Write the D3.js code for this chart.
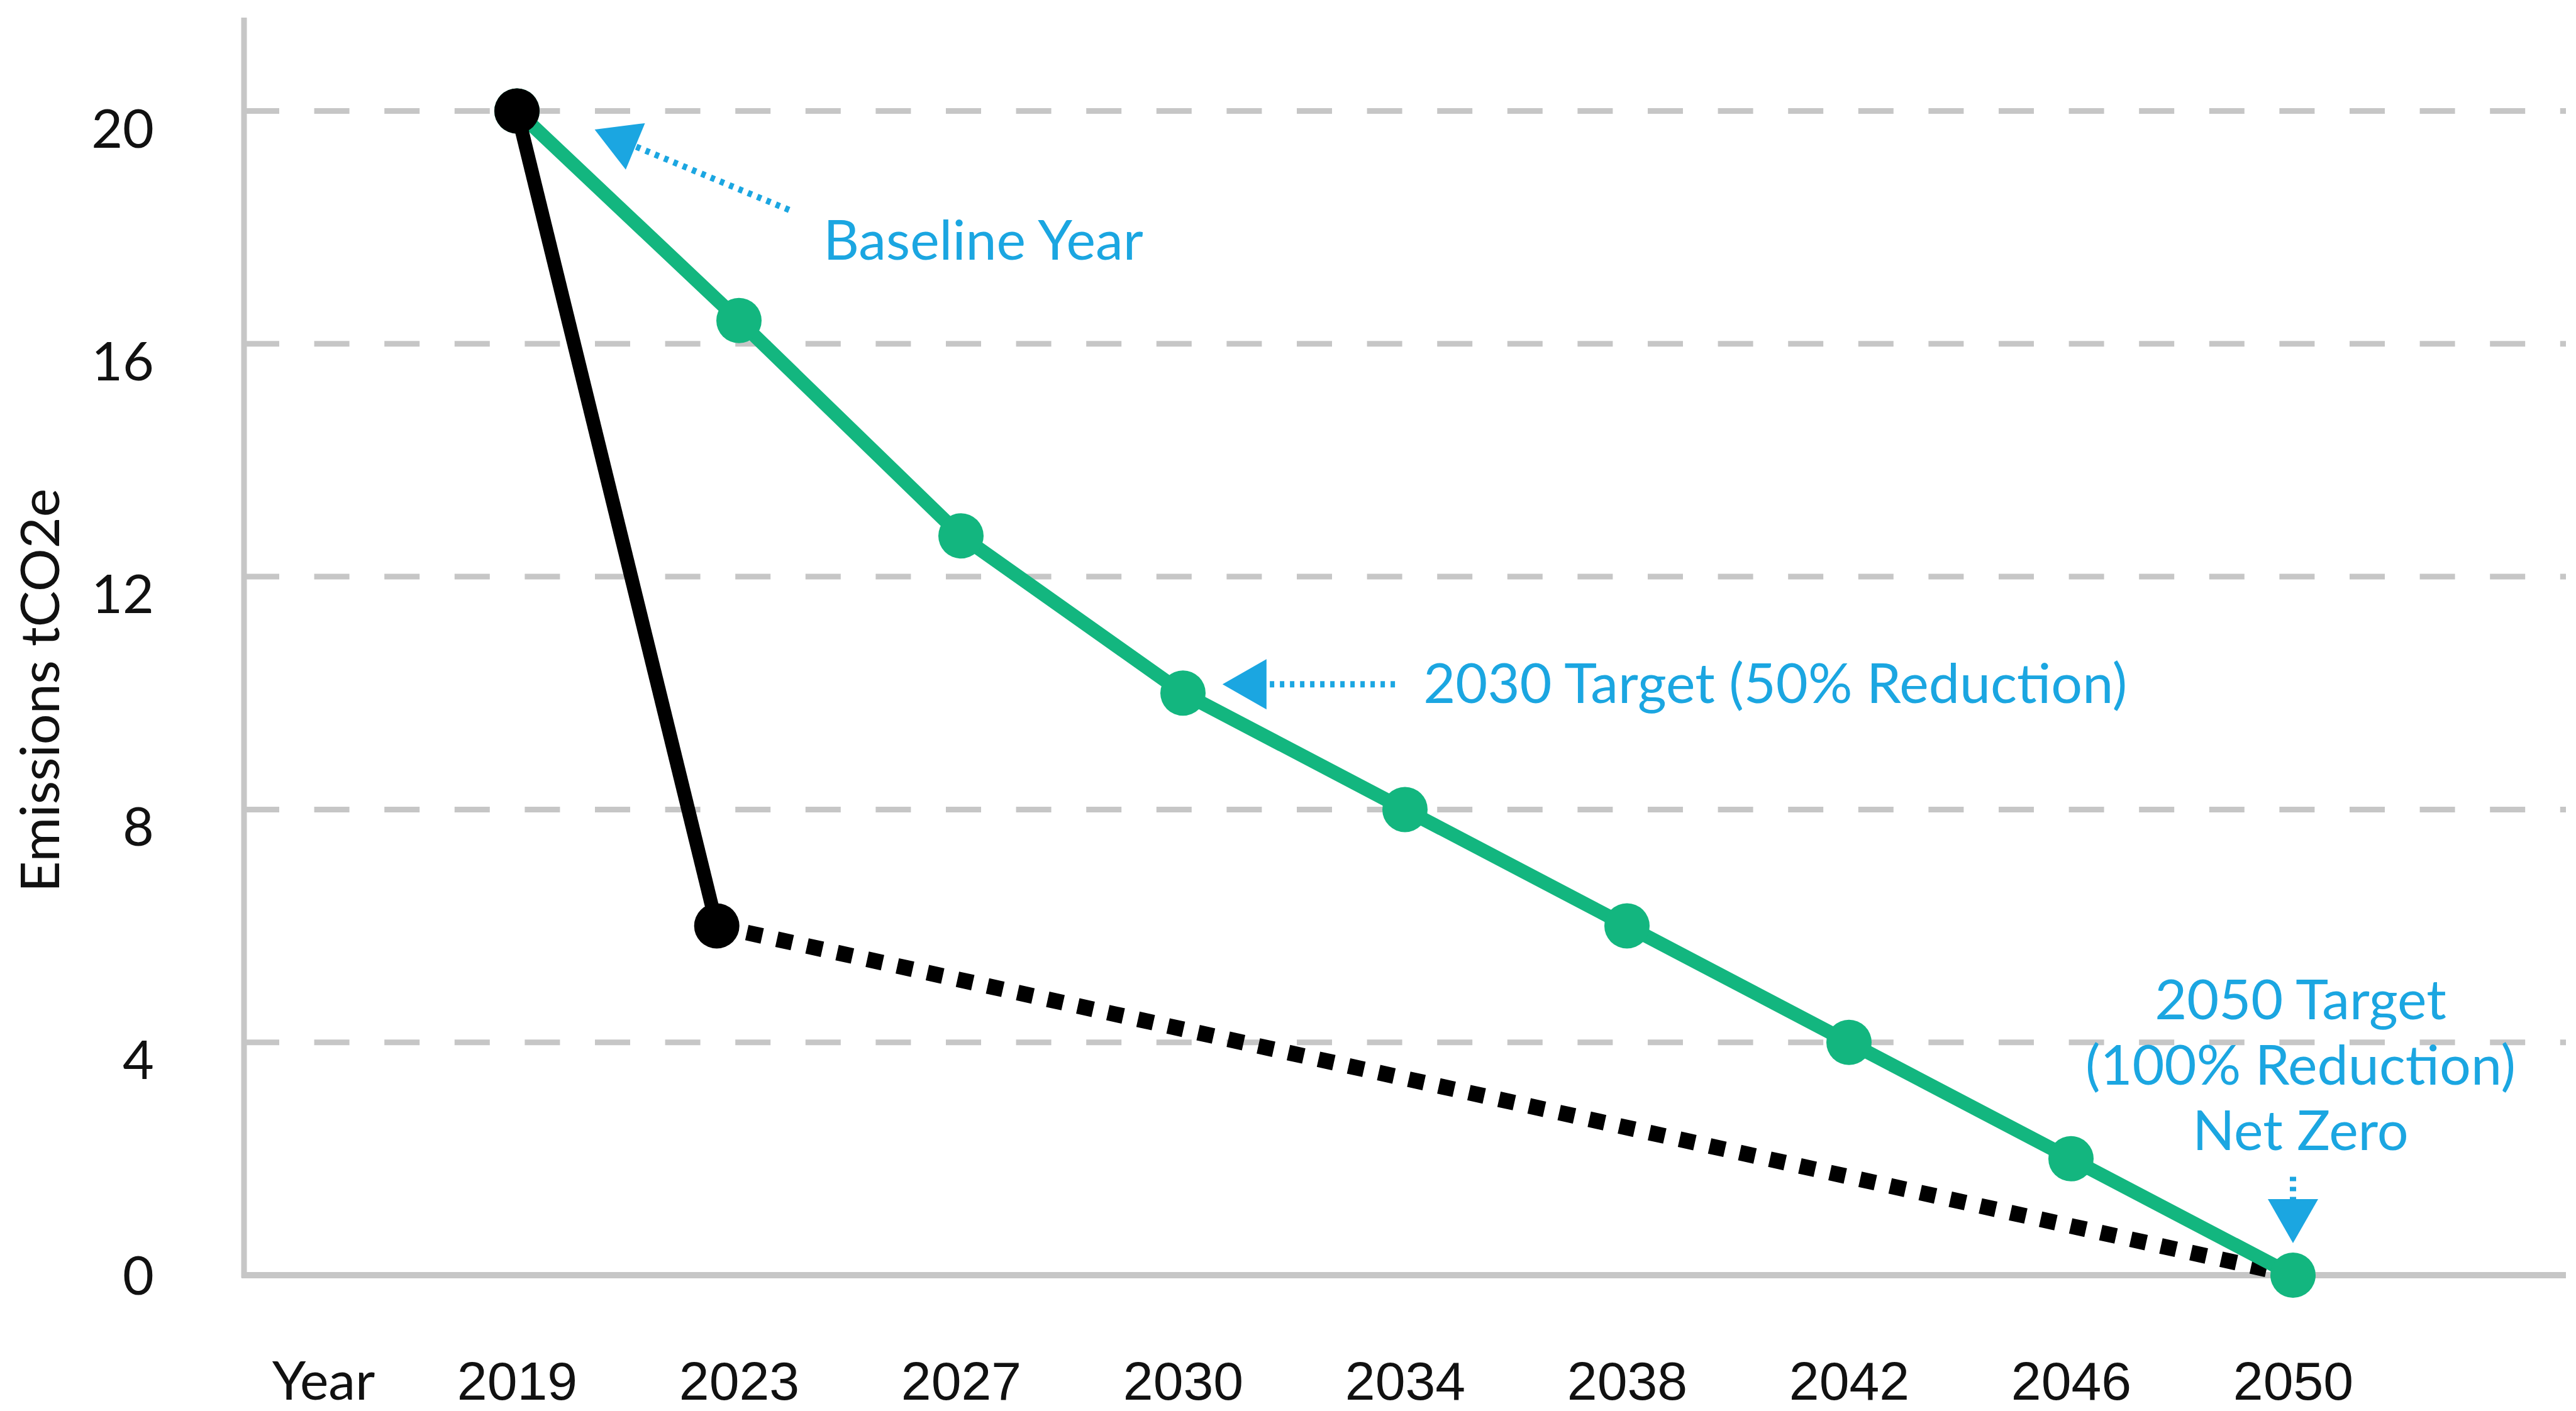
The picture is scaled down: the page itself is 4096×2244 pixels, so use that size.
<!DOCTYPE html>
<html lang="en">
  <head>
    <meta charset="UTF-8" />
    <title>Emissions reduction pathway</title>
    <script src="https://cdn.jsdelivr.net/npm/d3@7"></script>
    <style>
      body {
        margin: 0;
        background-color: #ffffff;
        font-family: Lato, 'Open Sans', sans-serif;
      }

      svg {
        display: block;
      }

      .tick-label {
        font-size: 86px;
        fill: #111;
      }

      .note {
        font-size: 88px;
        fill: #1ba6e1;
      }
    </style>
  </head>
  <body>
    <svg width="4096" height="2244"></svg>

    <script>
      // chart data
      const years = ['2019', '2023', '2027', '2030', '2034', '2038', '2042', '2046', '2050'];
      const targetValues = [20, 16.4, 12.7, 10, 8, 6, 4, 2, 0];
      // actual emissions: position on the year axis (index) and value
      const actualIndex = [0, 0.9];
      const actualValues = [20, 6];
      const projectedIndex = [0.9, 8];
      const projectedValues = [6, 0];
      const yTicks = [0, 4, 8, 12, 16, 20];

      // annotations, anchored in data units (index, value)
      const noteLines = [['Baseline Year'], ['2030 Target (50% Reduction)'], ['2050 Target', '(100% Reduction)', 'Net Zero']];
      const noteTextAt = [[1.38, 17.44], [4.083, 9.83], [8.034, 4.4]];
      const noteAnchor = ['start', 'start', 'middle'];
      const arrowTip = [[0.35, 19.68], [3.178, 10.15], [8, 0.55]];
      const arrowTail = [[1.226, 18.3], [3.955, 10.15], [8, 1.69]];

      const svg = d3.select('svg');
      const green = '#13b67f';
      const grey = '#c6c6c6';
      const cyan = '#1ba6e1';

      const x = d3.scaleLinear().domain([0, years.length - 1]).range([822, 3646]);
      const y = d3.scaleLinear().domain([0, 20]).range([2028, 176.5]);
      const axisX = 388;
      const rightEdge = 4080;

      // gridlines
      svg
        .append('g')
        .selectAll('line')
        .data(yTicks.filter((v) => v > 0))
        .join('line')
        .attr('x1', axisX)
        .attr('x2', rightEdge)
        .attr('y1', (d) => y(d))
        .attr('y2', (d) => y(d))
        .attr('stroke', grey)
        .attr('stroke-width', 9)
        .attr('stroke-dasharray', '56 55.6');

      // axis lines
      svg
        .append('line')
        .attr('x1', axisX)
        .attr('x2', axisX)
        .attr('y1', 28)
        .attr('y2', y(0) + 4)
        .attr('stroke', grey)
        .attr('stroke-width', 9);
      svg
        .append('line')
        .attr('x1', axisX - 4)
        .attr('x2', rightEdge)
        .attr('y1', y(0))
        .attr('y2', y(0))
        .attr('stroke', grey)
        .attr('stroke-width', 10);

      // y tick labels (sit just under their gridline, 0 centred on the axis)
      svg
        .append('g')
        .selectAll('text')
        .data(yTicks)
        .join('text')
        .attr('class', 'tick-label')
        .attr('text-anchor', 'end')
        .attr('x', 245)
        .attr('y', (d) => y(d) + (d === 0 ? 31 : 58))
        .text((d) => d);

      // x axis labels
      const xAxis = d3
        .axisBottom(x)
        .tickValues(d3.range(years.length))
        .tickFormat((i) => years[i])
        .tickSize(0);
      const gx = svg.append('g').attr('transform', `translate(0,${y(0)})`).call(xAxis);
      gx.select('.domain').remove();
      gx.selectAll('text')
        .attr('class', 'tick-label')
        .attr('font-family', null)
        .attr('y', 198)
        .attr('dy', 0);

      svg
        .append('text')
        .attr('class', 'tick-label')
        .attr('text-anchor', 'middle')
        .attr('x', x(-0.871))
        .attr('y', y(0) + 198)
        .text('Year');

      // y axis title
      svg
        .append('text')
        .attr('class', 'tick-label')
        .attr('text-anchor', 'middle')
        .attr('transform', 'translate(94,1098) rotate(-90)')
        .text('Emissions tCO2e');

      const line = d3
        .line()
        .x((d) => x(d[0]))
        .y((d) => y(d[1]));

      // projected (dotted) path
      svg
        .append('path')
        .datum(projectedIndex.map((p, i) => [p, projectedValues[i]]))
        .attr('d', line)
        .attr('fill', 'none')
        .attr('stroke', '#000')
        .attr('stroke-width', 25)
        .attr('stroke-dasharray', '25 24');

      // target path
      const targetData = targetValues.map((v, i) => [i, v]);
      svg
        .append('path')
        .datum(targetData)
        .attr('d', line)
        .attr('fill', 'none')
        .attr('stroke', green)
        .attr('stroke-width', 22)
        .attr('stroke-linejoin', 'round');
      svg
        .append('g')
        .selectAll('circle')
        .data(targetData)
        .join('circle')
        .attr('cx', (d) => x(d[0]))
        .attr('cy', (d) => y(d[1]))
        .attr('r', 36)
        .attr('fill', green);

      // actual path
      const actualData = actualIndex.map((p, i) => [p, actualValues[i]]);
      svg
        .append('path')
        .datum(actualData)
        .attr('d', line)
        .attr('fill', 'none')
        .attr('stroke', '#000')
        .attr('stroke-width', 22);
      svg
        .append('g')
        .selectAll('circle')
        .data(actualData)
        .join('circle')
        .attr('cx', (d) => x(d[0]))
        .attr('cy', (d) => y(d[1]))
        .attr('r', 36)
        .attr('fill', '#000');

      // annotation arrows
      const headLen = 70;
      const headHalf = 40;
      arrowTip.forEach((tip, i) => {
        const tx = x(tip[0]);
        const ty = y(tip[1]);
        const sx = x(arrowTail[i][0]);
        const sy = y(arrowTail[i][1]);
        const len = Math.hypot(sx - tx, sy - ty);
        const ux = (sx - tx) / len;
        const uy = (sy - ty) / len;
        const bx = tx + ux * headLen;
        const by = ty + uy * headLen;
        svg
          .append('line')
          .attr('x1', sx)
          .attr('y1', sy)
          .attr('x2', bx)
          .attr('y2', by)
          .attr('stroke', cyan)
          .attr('stroke-width', 10)
          .attr('stroke-dasharray', '7 9');
        svg
          .append('path')
          .attr(
            'd',
            `M${tx},${ty}L${bx - uy * headHalf},${by + ux * headHalf}L${bx + uy * headHalf},${by - ux * headHalf}Z`
          )
          .attr('fill', cyan);
      });

      // annotation texts
      noteLines.forEach((lines, i) => {
        const t = svg
          .append('text')
          .attr('class', 'note')
          .attr('text-anchor', noteAnchor[i])
          .attr('x', x(noteTextAt[i][0]))
          .attr('y', y(noteTextAt[i][1]))
          .attr('font-size', lines.length > 1 ? 82 : null);
        lines.forEach((s, j) => {
          t.append('tspan')
            .attr('x', x(noteTextAt[i][0]))
            .attr('dy', j === 0 ? 0 : 104)
            .text(s);
        });
      });
    </script>
  </body>
</html>
